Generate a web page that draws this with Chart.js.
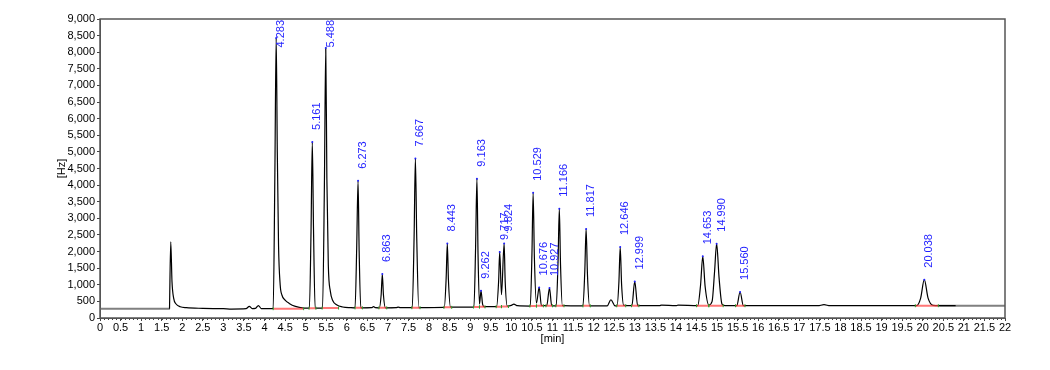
<!DOCTYPE html>
<html>
<head>
<meta charset="utf-8">
<script src="https://cdn.jsdelivr.net/npm/chart.js@4.4.1/dist/chart.umd.min.js"></script>
<style>
  html, body { margin: 0; padding: 0; background: #fff; }
  #wrap { width: 1050px; height: 370px; }
</style>
</head>
<body>
<div id="wrap"><canvas id="chromChart"></canvas></div>
<script>
// detector trace (black)
const traceTime = [
  1.69, 1.72, 1.75, 1.79, 1.85, 1.95, 2.1, 2.5, 3.0, 3.2, 3.55, 3.63, 3.7, 3.78, 3.85, 3.92,
  4.21, 4.25, 4.283, 4.31, 4.34, 4.38, 4.42, 4.5, 4.6, 4.75, 4.95,
  5.09, 5.13, 5.161, 5.19, 5.23,
  5.41, 5.455, 5.488, 5.515, 5.55, 5.6, 5.66, 5.75, 5.9, 6.1,
  6.20, 6.24, 6.273, 6.30, 6.34, 6.6, 6.65, 6.7,
  6.79, 6.835, 6.863, 6.89, 6.94, 7.2, 7.25, 7.3,
  7.59, 7.635, 7.667, 7.70, 7.75,
  8.37, 8.415, 8.443, 8.47, 8.52,
  9.09, 9.13, 9.163, 9.19, 9.225, 9.262, 9.30, 9.34,
  9.64, 9.69, 9.717, 9.76, 9.824, 9.85, 9.90, 10.0, 10.06, 10.15,
  10.46, 10.50, 10.529, 10.56, 10.61, 10.676, 10.73,
  10.86, 10.927, 10.98, 11.09, 11.135, 11.166, 11.195, 11.24,
  11.74, 11.785, 11.817, 11.85, 11.90,
  12.33, 12.42, 12.52, 12.57, 12.615, 12.646, 12.68, 12.73,
  12.93, 12.999, 13.07, 13.6, 13.65, 14.0, 14.05,
  14.53, 14.6, 14.653, 14.71, 14.8, 14.88, 14.94, 14.99, 15.05, 15.12, 15.2,
  15.48, 15.56, 15.64, 17.45, 17.6, 17.75,
  19.85, 19.95, 20.038, 20.13, 20.25, 20.4, 20.8
];
const traceSignal = [
  280, 2290, 1100, 600, 420, 340, 310, 290, 280, 270, 280, 350, 285, 290, 375, 285,
  280, 4200, 8430, 5000, 2200, 1000, 700, 540, 440, 350, 300,
  295, 2600, 5300, 2700, 300,
  300, 4000, 8130, 4200, 1600, 800, 520, 400, 330, 310,
  305, 2100, 4130, 2000, 305, 310, 340, 310,
  305, 700, 1325, 700, 305, 310, 330, 310,
  310, 2400, 4800, 2400, 315,
  320, 1200, 2240, 1150, 325,
  330, 2100, 4195, 1900, 420, 820, 420, 340,
  340, 1100, 1990, 700, 2245, 1100, 360, 380, 420, 370,
  360, 1900, 3770, 1800, 450, 920, 370,
  370, 900, 370, 365, 1700, 3290, 1600, 370,
  365, 1400, 2680, 1300, 365,
  365, 550, 365, 365, 1100, 2137, 1000, 380,
  370, 1100, 370, 370, 390, 370, 385,
  370, 1000, 1855, 950, 390, 500, 1400, 2236, 1200, 420, 370,
  370, 783, 370, 370, 400, 370,
  370, 600, 1153, 600, 380, 370, 370
];

// second trace (grey), visible before the void peak and after the last peak
const greyTime = [0, 1.7, null, 20.4, 22];
const greySignal = [280, 280, null, 370, 370];

// integrated peaks
const peakLabels = ['4.283', '5.161', '5.488', '6.273', '6.863', '7.667', '8.443', '9.163', '9.262',
  '9.717', '9.824', '10.529', '10.676', '10.927', '11.166', '11.817', '12.646', '12.999',
  '14.653', '14.990', '15.560', '20.038'];
const peakTime = [4.283, 5.161, 5.488, 6.273, 6.863, 7.667, 8.443, 9.163, 9.262,
  9.717, 9.824, 10.529, 10.676, 10.927, 11.166, 11.817, 12.646, 12.999,
  14.653, 14.990, 15.560, 20.038];
const peakHeight = [8430, 5300, 8130, 4130, 1325, 4800, 2240, 4195, 820,
  1990, 2245, 3770, 920, 900, 3290, 2680, 2137, 1100,
  1855, 2236, 783, 1153];
const peakStart = [4.21, 5.08, 5.40, 6.20, 6.78, 7.58, 8.36, 9.08, 9.225,
  9.63, 9.76, 10.45, 10.61, 10.84, 11.08, 11.74, 12.56, 12.92,
  14.50, 14.80, 15.45, 19.82];
const peakEnd = [4.95, 5.25, 5.80, 6.38, 6.97, 7.78, 8.55, 9.225, 9.36,
  9.76, 9.93, 10.61, 10.78, 11.00, 11.28, 11.92, 12.78, 13.10,
  14.80, 15.15, 15.68, 20.38];
const peakBase = [280, 295, 300, 305, 305, 310, 320, 330, 335,
  340, 345, 360, 365, 368, 368, 365, 368, 370,
  370, 370, 370, 370];

const xTicks = { min: 0, max: 22, step: 0.5 };
const yTicks = { min: 0, max: 9000, step: 500 };

const baselineSegments = [];
const boundaryPoints = [];
peakTime.forEach((t, i) => {
  baselineSegments.push({ x: peakStart[i], y: peakBase[i] }, { x: peakEnd[i], y: peakBase[i] }, { x: peakEnd[i], y: null });
  boundaryPoints.push({ x: peakStart[i], y: peakBase[i] }, { x: peakEnd[i], y: peakBase[i] });
});

const frameAndLabels = {
  id: 'frameAndLabels',
  afterDatasetsDraw(chart) {
    const { ctx, chartArea, scales } = chart;
    const x = scales.x, y = scales.y;

    // minor ticks along the time axis
    ctx.save();
    ctx.strokeStyle = '#444';
    ctx.lineWidth = 1;
    ctx.beginPath();
    for (let v = 0; v <= 220; v++) {
      const px = Math.round(x.getPixelForValue(v / 10)) + 0.5;
      ctx.moveTo(px, chartArea.bottom);
      ctx.lineTo(px, chartArea.bottom + 2);
    }
    ctx.stroke();

    // peak labels, rotated
    ctx.fillStyle = '#1f1fff';
    ctx.font = '11px "Liberation Sans", Arial, sans-serif';
    ctx.textAlign = 'left';
    ctx.textBaseline = 'middle';
    peakLabels.forEach((label, i) => {
      const px = x.getPixelForValue(peakTime[i]);
      const py = y.getPixelForValue(peakHeight[i]);
      const w = ctx.measureText(label).width;
      let start = py - 12;
      if (start - w < chartArea.top + 1) start = chartArea.top + 1 + w;
      ctx.save();
      ctx.translate(px + 5, start);
      ctx.rotate(-Math.PI / 2);
      ctx.fillText(label, 0, 0);
      ctx.restore();
    });

    // frame
    ctx.strokeStyle = '#555';
    ctx.lineWidth = 1.5;
    ctx.strokeRect(chartArea.left, chartArea.top, chartArea.right - chartArea.left, chartArea.bottom - chartArea.top);
    ctx.restore();
  }
};

const tickFont = { family: '"Liberation Sans", Arial, sans-serif', size: 11 };

new Chart(document.getElementById('chromChart'), {
  type: 'line',
  data: {
    datasets: [
      {
        label: 'trace',
        data: traceTime.map((t, i) => ({ x: t, y: traceSignal[i] })),
        borderColor: '#000',
        borderWidth: 1.2,
        pointRadius: 0,
        cubicInterpolationMode: 'monotone',
        order: 2
      },
      {
        label: 'grey',
        data: greyTime.map((t, i) => ({ x: t, y: greySignal[i] })),
        borderColor: '#808080',
        borderWidth: 2,
        pointRadius: 0,
        spanGaps: false,
        order: 3
      },
      {
        label: 'baselines',
        data: baselineSegments,
        borderColor: 'rgba(255, 60, 60, 0.7)',
        borderWidth: 2,
        pointRadius: 0,
        spanGaps: false,
        order: 1
      },
      {
        label: 'bounds',
        type: 'scatter',
        data: boundaryPoints,
        pointStyle: 'line',
        rotation: 90,
        radius: 1.5,
        borderColor: '#2ca02c',
        borderWidth: 1,
        order: 0
      },
      {
        label: 'apex',
        type: 'scatter',
        data: peakTime.map((t, i) => ({ x: t, y: peakHeight[i] })),
        pointStyle: 'circle',
        radius: 1,
        backgroundColor: '#1f1fff',
        borderWidth: 0,
        order: 0
      }
    ]
  },
  options: {
    responsive: true,
    maintainAspectRatio: false,
    animation: false,
    events: [],
    layout: { padding: { left: 50, right: 45, top: 19, bottom: 20 } },
    plugins: { legend: { display: false }, tooltip: { enabled: false } },
    scales: {
      x: {
        type: 'linear',
        min: xTicks.min,
        max: xTicks.max,
        afterFit: (scale) => { scale.height = 32; },
        ticks: {
          stepSize: xTicks.step,
          autoSkip: false,
          maxRotation: 0,
          padding: 0,
          color: '#000',
          font: tickFont,
          callback: (v) => String(v)
        },
        grid: { drawOnChartArea: false, drawTicks: true, tickLength: 3, color: '#444' },
        border: { display: true, color: '#555' },
        title: { display: true, text: '[min]', color: '#000', font: tickFont, padding: { top: 0, bottom: 4 } }
      },
      y: {
        min: yTicks.min,
        max: yTicks.max,
        afterFit: (scale) => { scale.width = 50; },
        ticks: {
          stepSize: yTicks.step,
          padding: 2,
          color: '#000',
          font: tickFont,
          callback: (v) => v.toLocaleString('en-US')
        },
        grid: { drawOnChartArea: false, drawTicks: true, tickLength: 3, color: '#444' },
        border: { display: true, color: '#555' },
        title: { display: true, text: '[Hz]', color: '#000', font: tickFont, padding: { top: 5, bottom: 0 } }
      }
    }
  },
  plugins: [frameAndLabels]
});
</script>
</body>
</html>
